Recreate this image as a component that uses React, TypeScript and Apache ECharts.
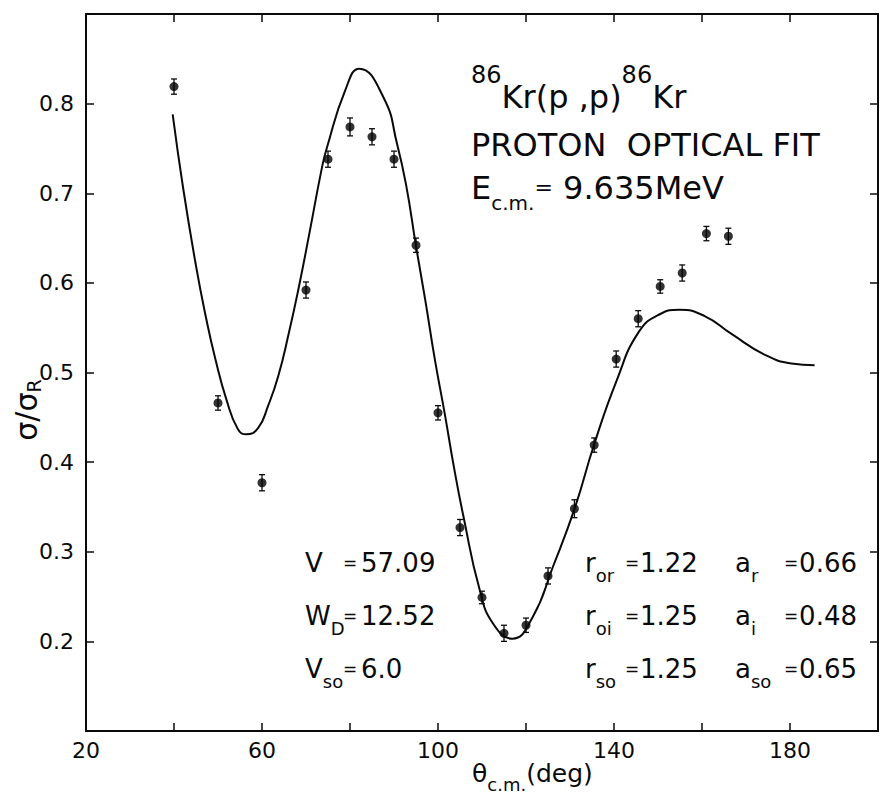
import React, { useEffect, useRef } from "react";
import * as echarts from "echarts";

// Measured cross sections (ratio to Rutherford) vs c.m. angle
const angleDeg = [40, 50, 60, 70, 75, 80, 85, 90, 95, 100, 105, 110, 115, 120, 125, 131, 135.5, 140.5, 145.5, 150.5, 155.5, 161, 166];
const ratio = [0.819, 0.466, 0.377, 0.592, 0.738, 0.774, 0.763, 0.738, 0.642, 0.455, 0.327, 0.249, 0.209, 0.218, 0.273, 0.348, 0.419, 0.515, 0.56, 0.596, 0.611, 0.655, 0.652];
const ratioErr = [0.0085, 0.008, 0.009, 0.009, 0.009, 0.01, 0.009, 0.009, 0.008, 0.008, 0.009, 0.007, 0.009, 0.008, 0.009, 0.01, 0.008, 0.009, 0.009, 0.0075, 0.009, 0.008, 0.009];

// Optical-model fit curve
const fitAngle = [39.7, 42.1, 45.0, 47.2, 49.4, 51.9, 54.5, 56.4, 59.1, 61.4, 63.7, 66.1, 68.4, 70.8, 73.6, 74.7, 79.0, 82.1, 87.7, 90.7, 92.8, 95.0, 97.1, 99.3, 101.5, 103.6, 105.8, 109.5, 112.5, 116.9, 121.5, 126.1, 131.1, 135.5, 140.6, 145.6, 150.4, 154.9, 160.6, 166.7, 174.2, 180.3, 185.6];
const fitRatio = [0.788, 0.705, 0.619, 0.563, 0.515, 0.47, 0.437, 0.431, 0.438, 0.463, 0.496, 0.544, 0.596, 0.656, 0.728, 0.75, 0.816, 0.839, 0.806, 0.755, 0.708, 0.641, 0.581, 0.514, 0.455, 0.395, 0.339, 0.257, 0.22, 0.203, 0.227, 0.283, 0.349, 0.42, 0.491, 0.545, 0.565, 0.57, 0.563, 0.543, 0.52, 0.51, 0.508];

const xTickLabels = ["20", "60", "100", "140", "180"];
const yTickLabels = ["0.2", "0.3", "0.4", "0.5", "0.6", "0.7", "0.8"];

// Optical-model parameters shown on the plot
const leftParams = [
  { name: "V", sub: "", value: "57.09" },
  { name: "W", sub: "D", value: "12.52" },
  { name: "V", sub: "so", value: "6.0" },
];
const rParams = [
  { name: "r", sub: "or", value: "1.22" },
  { name: "r", sub: "oi", value: "1.25" },
  { name: "r", sub: "so", value: "1.25" },
];
const aParams = [
  { name: "a", sub: "r", value: "0.66" },
  { name: "a", sub: "i", value: "0.48" },
  { name: "a", sub: "so", value: "0.65" },
];

const FONT = "DejaVu Sans";
const INK = "#0a0a0a";

const axisCommon = {
  type: "value" as const,
  axisLine: { show: true, onZero: false, lineStyle: { color: INK, width: 2 } },
  axisTick: { show: true, inside: true, length: 8, lineStyle: { color: INK, width: 1.5 } },
  splitLine: { show: false },
};

type Part = { t: string; size: number; dy?: number };

function App() {
  const ref = useRef<HTMLDivElement>(null);

  useEffect(() => {
    if (!ref.current) return;
    const chart = echarts.init(ref.current, undefined, { renderer: "svg" });

    const ctx = document.createElement("canvas").getContext("2d")!;
    const measure = (t: string, size: number) => {
      ctx.font = `${size}px "${FONT}"`;
      return ctx.measureText(t).width;
    };
    const textEl = (x: number, y: number, t: string, size: number, align = "left") => ({
      type: "text",
      x,
      y,
      silent: true,
      style: { text: t, fontSize: size, fontFamily: FONT, fill: INK, align, verticalAlign: "middle" },
    });
    const runs = (x: number, y: number, parts: Part[]) => {
      let cx = x;
      return parts.map((p) => {
        const el = textEl(cx, y + (p.dy || 0), p.t, p.size);
        cx += measure(p.t, p.size);
        return el;
      });
    };
    const runWidth = (parts: Part[]) => parts.reduce((s, p) => s + measure(p.t, p.size), 0);

    const graphic: any[] = [];
    // title block
    graphic.push(
      ...runs(471, 97, [
        { t: "86", size: 24, dy: -22 },
        { t: "Kr(p ,p)", size: 32 },
        { t: "86", size: 24, dy: -22 },
        { t: "Kr", size: 32 },
      ])
    );
    graphic.push(textEl(471, 145, "PROTON  OPTICAL FIT", 32));
    graphic.push(
      ...runs(471, 188, [
        { t: "E", size: 32 },
        { t: "c.m.", size: 20, dy: 15 },
        { t: "=", size: 22, dy: -1 },
        { t: " 9.635MeV", size: 32 },
      ])
    );
    // x-axis title
    graphic.push(
      ...runs(472, 773, [
        { t: "θ", size: 25 },
        { t: "c.m.", size: 18, dy: 11 },
        { t: "(deg)", size: 25 },
      ])
    );
    // y-axis title (rotated)
    const yParts: Part[] = [
      { t: "σ/σ", size: 30 },
      { t: "R", size: 19, dy: 8 },
    ];
    graphic.push({
      type: "group",
      x: 26,
      y: 410,
      rotation: Math.PI / 2,
      children: runs(-runWidth(yParts) / 2, 0, yParts),
    });

    // parameter table
    const rows = [563, 616, 669];
    const label = (x: number, y: number, p: { name: string; sub: string }) =>
      runs(x, y, [
        { t: p.name, size: 26 },
        ...(p.sub ? [{ t: p.sub, size: 18, dy: 12 }] : []),
      ]);
    rows.forEach((y, i) => {
      graphic.push(...label(305, y, leftParams[i]));
      graphic.push(textEl(350, y, "=", 17, "center"));
      graphic.push(textEl(361, y, leftParams[i].value, 26));
      graphic.push(...label(585, y, rParams[i]));
      graphic.push(textEl(632, y, "=", 17, "center"));
      graphic.push(textEl(640, y, rParams[i].value, 26));
      graphic.push(...label(735, y, aParams[i]));
      graphic.push(textEl(791, y, "=", 17, "center"));
      graphic.push(textEl(857, y, aParams[i].value, 26, "right"));
    });

    chart.setOption({
      animation: false,
      backgroundColor: "#fff",
      grid: { left: 86, top: 14, width: 796, height: 717, containLabel: false },
      xAxis: [
        {
          ...axisCommon,
          min: 20,
          max: 200,
          interval: 20,
          position: "bottom",
          axisLabel: {
            show: true,
            margin: 8,
            fontSize: 22,
            fontFamily: FONT,
            color: INK,
            formatter: (v: number) => (xTickLabels.includes(String(v)) ? String(v) : ""),
          },
        },
        {
          ...axisCommon,
          min: 20,
          max: 200,
          interval: 20,
          position: "top",
          axisLabel: { show: false },
        },
      ],
      yAxis: [
        {
          ...axisCommon,
          min: 0.1,
          max: 0.9,
          interval: 0.1,
          position: "left",
          axisLabel: {
            show: true,
            margin: 12,
            fontSize: 22,
            fontFamily: FONT,
            color: INK,
            formatter: (v: number) => {
              const s = v.toFixed(1);
              return yTickLabels.includes(s) ? s : "";
            },
          },
        },
        {
          ...axisCommon,
          min: 0.1,
          max: 0.9,
          interval: 0.1,
          position: "right",
          axisLabel: { show: false },
        },
      ],
      series: [
        {
          type: "line",
          xAxisIndex: 0,
          yAxisIndex: 0,
          data: fitAngle.map((a, i) => [a, fitRatio[i]]),
          showSymbol: false,
          smooth: 0.5,
          lineStyle: { color: INK, width: 2 },
          silent: true,
        },
        {
          type: "custom",
          xAxisIndex: 0,
          yAxisIndex: 0,
          data: angleDeg.map((a, i) => [a, ratio[i], ratioErr[i]]),
          encode: { x: 0, y: 1 },
          silent: true,
          renderItem: (_params: any, api: any) => {
            const x = api.value(0);
            const y = api.value(1);
            const e = api.value(2);
            const top = api.coord([x, y + e]);
            const bot = api.coord([x, y - e]);
            const hw = 3;
            const st = { stroke: INK, lineWidth: 1.3 };
            return {
              type: "group",
              children: [
                { type: "line", shape: { x1: top[0], y1: top[1], x2: bot[0], y2: bot[1] }, style: st },
                { type: "line", shape: { x1: top[0] - hw, y1: top[1], x2: top[0] + hw, y2: top[1] }, style: st },
                { type: "line", shape: { x1: bot[0] - hw, y1: bot[1], x2: bot[0] + hw, y2: bot[1] }, style: st },
              ],
            };
          },
        },
        {
          type: "scatter",
          xAxisIndex: 0,
          yAxisIndex: 0,
          data: angleDeg.map((a, i) => [a, ratio[i]]),
          symbol: "circle",
          symbolSize: 9,
          itemStyle: { color: "#000" },
          silent: true,
        },
      ],
      graphic,
    });

    return () => chart.dispose();
  }, []);

  return (
    <div
      ref={ref}
      style={{ position: "fixed", left: 0, top: 0, width: 881, height: 796, background: "#fff" }}
    />
  );
}

export default App;
